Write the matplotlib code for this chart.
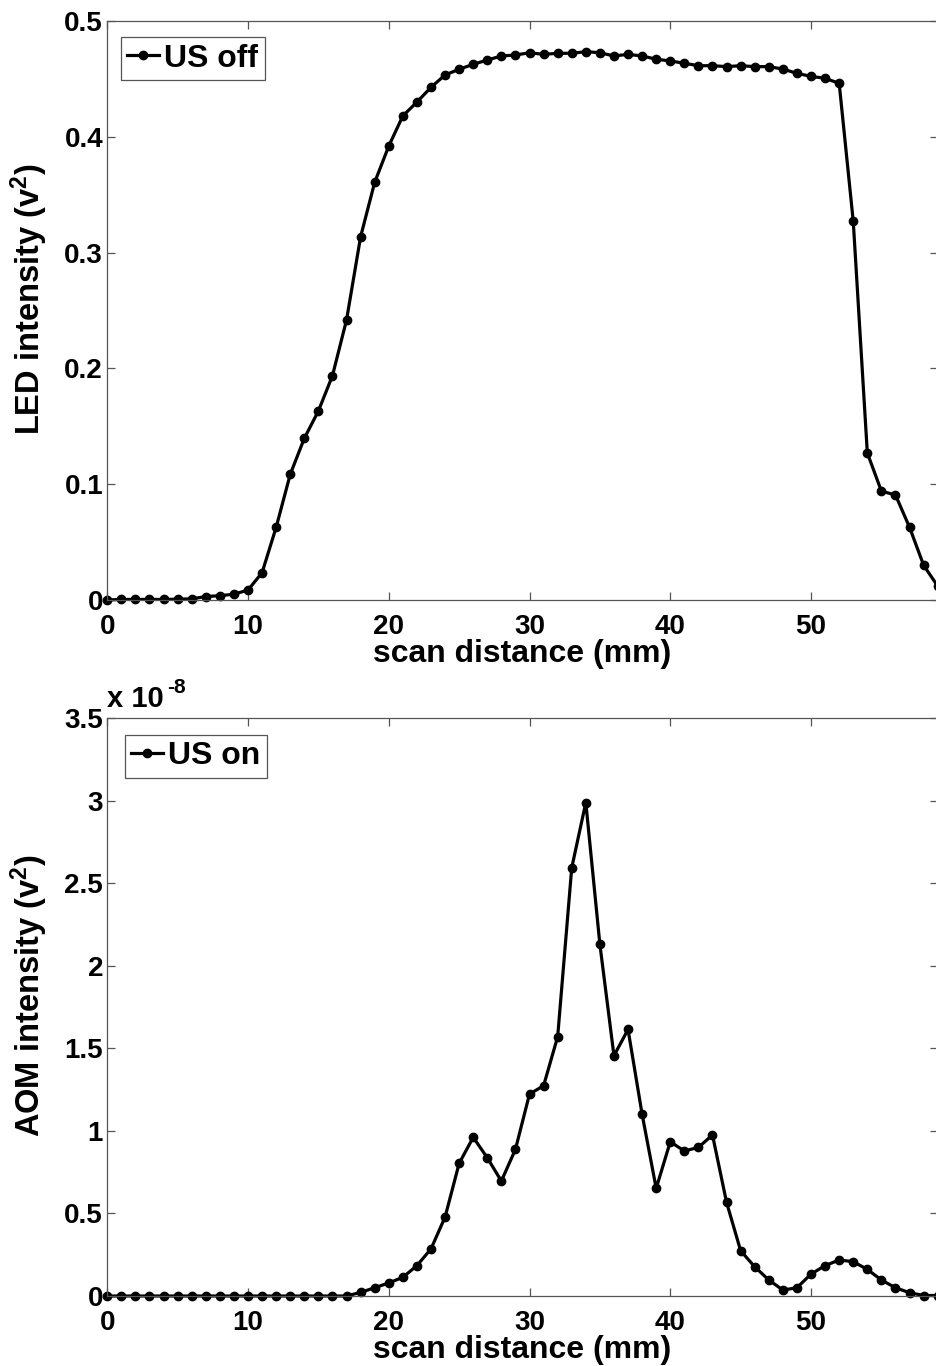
import numpy as np
import matplotlib
matplotlib.use("Agg")
import matplotlib.pyplot as plt
from matplotlib.ticker import FuncFormatter

plt.rcParams['font.family'] = ['Liberation Sans', 'DejaVu Sans']
plt.rcParams['font.weight'] = 'bold'
plt.rcParams['mathtext.fontset'] = 'custom'
plt.rcParams['mathtext.rm'] = 'Liberation Sans:bold'
plt.rcParams['mathtext.bf'] = 'Liberation Sans:bold'
plt.rcParams['mathtext.it'] = 'Liberation Sans:bold'
plt.rcParams['mathtext.default'] = 'rm'

# scan positions (mm)
distance = list(range(0, 60))

# LED intensity, ultrasound off (v^2)
led_off = [0.0, 0.0005, 0.0005, 0.0005, 0.0005, 0.0007, 0.001, 0.003, 0.0037, 0.005,
           0.0086, 0.0236, 0.0628, 0.1085, 0.1396, 0.1632, 0.1937, 0.2418, 0.3137, 0.3607,
           0.392, 0.418, 0.430, 0.4427, 0.4534, 0.4583, 0.4626, 0.4663, 0.4698, 0.4706,
           0.4726, 0.4712, 0.4721, 0.4721, 0.4735, 0.4726, 0.4698, 0.4712, 0.4698, 0.467,
           0.4655, 0.4635, 0.4614, 0.4614, 0.4606, 0.4614, 0.4606, 0.4606, 0.4585, 0.4548,
           0.4522, 0.4505, 0.4462, 0.327, 0.127, 0.094, 0.0907, 0.0628, 0.030, 0.012]

# AOM intensity, ultrasound on (x 1e-8 v^2)
aom_on = [0, 0, 0, 0, 0, 0, 0, 0, 0, 0,
          0, 0, 0, 0, 0, 0, 0, 0, 0.022, 0.05,
          0.079, 0.113, 0.184, 0.285, 0.478, 0.803, 0.961, 0.837, 0.696, 0.888,
          1.223, 1.273, 1.57, 2.593, 2.988, 2.129, 1.455, 1.614, 1.10, 0.652,
          0.934, 0.878, 0.90, 0.975, 0.567, 0.274, 0.177, 0.097, 0.036, 0.05,
          0.133, 0.184, 0.218, 0.208, 0.161, 0.097, 0.05, 0.02, 0.003, 0.003]
aom_scale = 1e-8

spine_col = '#555555'

fig = plt.figure(figsize=(9.36, 13.66), dpi=100)
W, H = 936, 1366
x0, x1 = 107.25, 937.7
ax1 = fig.add_axes([x0 / W, 1 - 600 / H, (x1 - x0) / W, 579 / H])
ax2 = fig.add_axes([x0 / W, 1 - 1296 / H, (x1 - x0) / W, 578 / H])


def style(ax):
    ax.set_xlim(0, 59)
    ax.set_xticks([0, 10, 20, 30, 40, 50])
    for s in ax.spines.values():
        s.set_color(spine_col)
        s.set_linewidth(0.9)
    ax.tick_params(direction='in', top=True, right=True, length=6, width=0.9,
                   color=spine_col, labelsize=20)
    ax.tick_params(axis='x', pad=10)
    ax.tick_params(axis='y', pad=3)
    for lab in ax.get_xticklabels() + ax.get_yticklabels():
        lab.set_fontweight('bold')
    ax.set_xlabel('scan distance (mm)', fontsize=23, fontweight='bold')
    ax.xaxis.set_label_coords(0.5, -0.068)


ax1.plot(distance, led_off, '-o', color='black', lw=2.3, ms=6, clip_on=False,
         label='US off')
ax1.set_ylim(0, 0.5)
ax1.set_yticks([0, 0.1, 0.2, 0.3, 0.4, 0.5])
ax1.yaxis.set_major_formatter(FuncFormatter(lambda v, p: '%g' % round(v, 3)))
style(ax1)
ax1.set_ylabel('LED intensity (v$^2$)', fontsize=23.5, fontweight='bold')
ax1.yaxis.set_label_coords(-0.069, 0.52)

aom = np.array(aom_on) * aom_scale
ax2.plot(distance, aom, '-o', color='black', lw=2.3, ms=6, clip_on=False,
         label='US on')
ax2.set_ylim(0, 3.5e-8)
ax2.set_yticks(np.arange(0, 3.51, 0.5) * aom_scale)
ax2.yaxis.set_major_formatter(FuncFormatter(lambda v, p: '%g' % round(v / aom_scale, 3)))
style(ax2)
ax2.set_ylabel('AOM intensity (v$^2$)', fontsize=23.5, fontweight='bold')
ax2.yaxis.set_label_coords(-0.069, 0.52)
ax2.text(0.0, 1.009, 'x 10', transform=ax2.transAxes, ha='left', va='bottom',
         fontsize=21, fontweight='bold')
ax2.text(0.072, 1.036, '-8', transform=ax2.transAxes, ha='left', va='bottom',
         fontsize=15, fontweight='bold')

for ax, anchor in [(ax1, (0.0166, 0.972)), (ax2, (0.0213, 0.9706))]:
    leg = ax.legend(loc='upper left', bbox_to_anchor=anchor, borderaxespad=0,
                    fancybox=False, framealpha=1, edgecolor=spine_col,
                    handlelength=1.0, handletextpad=0.15, borderpad=0.2,
                    prop={'size': 23, 'weight': 'bold'})
    leg.get_frame().set_linewidth(0.9)

fig.savefig('out.png', dpi=100)
